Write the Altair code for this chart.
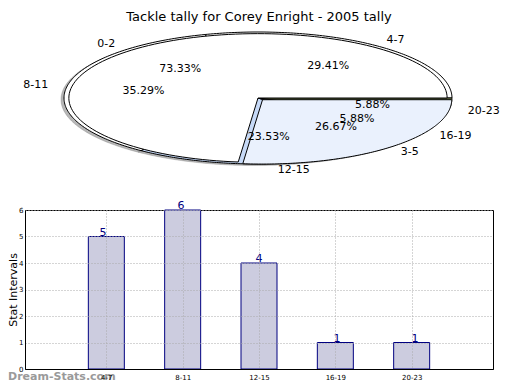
import json
import altair as alt
import pandas as pd

# ---------------- data ----------------
title_text = "Tackle tally for Corey Enright - 2005 tally"
pie_a_labels = ["0-2", "3-5"]
pie_a_values = [11, 4]
pie_b_labels = ["4-7", "8-11", "12-15", "16-19", "20-23"]
pie_b_values = [5, 6, 4, 1, 1]
bar_labels = ["4-7", "8-11", "12-15", "16-19", "20-23"]
bar_values = [5, 6, 4, 1, 1]

# ---------------- tables ----------------
N = 120  # arc resolution (steps along each slice edge)
rows = []
for pie, labels, values in (("A", pie_a_labels, pie_a_values), ("B", pie_b_labels, pie_b_values)):
    for i, (lab, v) in enumerate(zip(labels, values)):
        for t in range(N + 3):
            rows.append({"pie": pie, "label": lab, "value": v, "order": i, "t": t})
pie_df = pd.DataFrame(rows)
bar_df = pd.DataFrame({"label": bar_labels, "value": bar_values,
                       "pos": list(range(1, len(bar_labels) + 1))})

slice_labels = pie_a_labels + pie_b_labels
slice_colors = ["#ffffff", "#eaf1fd", "#ffffff", "#ffffff", "#c6d9f7", "#eaf1fd", "#8d9c5c"]

# pie placement (pixels, relative to bar plot origin)
CX, CY, RX, RY = 233, -112, 194, 66
px_scale = alt.Scale(domain=[-1, 1], range=[CX - RX, CX + RX])
py_scale = alt.Scale(domain=[-1, 1], range=[CY + RY, CY - RY])

base = alt.Chart(pie_df).transform_calculate(
    w="datum.t == 0 ? datum.value : 0"
).transform_joinaggregate(
    total="sum(w)", groupby=["pie"]
).transform_window(
    cum="sum(w)", sort=[alt.SortField("order"), alt.SortField("t")],
    groupby=["pie"], frame=[None, 0]
).transform_calculate(
    a0="2*PI*(datum.cum - datum.value)/datum.total",
    a1="2*PI*datum.cum/datum.total",
).transform_calculate(
    mid="(datum.a0 + datum.a1)/2",
    ang=f"datum.a0 + (datum.a1 - datum.a0)*clamp(datum.t - 1, 0, {N})/{N}",
    r=f"(datum.t == 0 || datum.t == {N + 2}) ? 0 : (datum.pie == 'A' ? 0.975 : 1)",
    ex="datum.label == '3-5' ? 0.035 : 0",
).transform_calculate(
    x="datum.r*cos(datum.ang) + datum.ex*cos(datum.mid)",
    y="datum.r*sin(datum.ang) + datum.ex*sin(datum.mid)",
)

def wedge_layer(pie, **mk):
    return base.transform_filter(f"datum.pie == '{pie}'").mark_line(
        strokeWidth=1, stroke="black", interpolate="linear", **mk
    ).encode(
        x=alt.X("x:Q", scale=px_scale, axis=None),
        y=alt.Y("y:Q", scale=py_scale, axis=None),
        fill=alt.Fill("label:N", scale=alt.Scale(domain=slice_labels, range=slice_colors), legend=None),
        detail="label:N",
        order="t:Q",
    )

shadow = base.transform_filter("datum.pie == 'B'").mark_line(
    fill="#707070", fillOpacity=0.5, stroke="#707070", strokeOpacity=0.3,
    strokeWidth=1, xOffset=-3, yOffset=1.5
).encode(
    x=alt.X("x:Q", scale=px_scale, axis=None),
    y=alt.Y("y:Q", scale=py_scale, axis=None),
    detail="label:N",
    order="t:Q",
)
pie_b = wedge_layer("B")
pie_a = wedge_layer("A")

lab_base = base.transform_filter("datum.t == 0").transform_calculate(
    lx="1.1*cos(datum.mid)", ly="1.1*sin(datum.mid)",
    qx="0.6*cos(datum.mid)", qy="0.6*sin(datum.mid)",
    pct="format(100*datum.value/datum.total, '.2f') + '%'",
)
txt = dict(font="DejaVu Sans", fontSize=11, color="black", baseline="middle")
lab_right = lab_base.transform_filter("datum.lx >= 0").mark_text(align="left", **txt).encode(
    x=alt.X("lx:Q", scale=px_scale, axis=None),
    y=alt.Y("ly:Q", scale=py_scale, axis=None),
    text="label:N",
)
lab_left = lab_base.transform_filter("datum.lx < 0").mark_text(align="right", **txt).encode(
    x=alt.X("lx:Q", scale=px_scale, axis=None),
    y=alt.Y("ly:Q", scale=py_scale, axis=None),
    text="label:N",
)
pct = lab_base.mark_text(align="center", **txt).encode(
    x=alt.X("qx:Q", scale=px_scale, axis=None),
    y=alt.Y("qy:Q", scale=py_scale, axis=None),
    text="pct:N",
)

# ---------------- bar chart ----------------
label_expr = json.dumps(bar_labels) + "[datum.value - 1]"
bx_scale = alt.Scale(domain=[0, 6], nice=False, zero=False)
by_scale = alt.Scale(domain=[0, 6], nice=False)

bars = alt.Chart(bar_df).mark_bar(
    size=36, fill="#ccccdf", stroke="#000080", strokeWidth=1
).encode(
    x=alt.X("pos:Q", scale=bx_scale, title="Frequency",
            axis=alt.Axis(values=[1, 2, 3, 4, 5], labelExpr=label_expr,
                          labelFont="DejaVu Sans", labelFontSize=7, labelColor="black",
                          labelPadding=4, tickSize=0,
                          titleFont="DejaVu Sans", titleFontSize=11, titleFontWeight="normal",
                          titleColor="black", titlePadding=2,
                          domainColor="black", grid=True, gridColor="#aaaaaa",
                          gridDash=[1, 2], zindex=1)),
    y=alt.Y("value:Q", scale=by_scale, title="Stat Intervals",
            axis=alt.Axis(values=[0, 1, 2, 3, 4, 5, 6], format="d",
                          labelFont="DejaVu Sans", labelFontSize=7, labelColor="black",
                          labelPadding=2, tickSize=0,
                          titleFont="DejaVu Sans", titleFontSize=11, titleFontWeight="normal",
                          titleColor="black", titlePadding=0,
                          domainColor="black", grid=True, gridColor="#aaaaaa",
                          gridDash=[1, 2], zindex=1)),
)
bar_text = alt.Chart(bar_df).mark_text(
    font="DejaVu Sans", fontSize=11, color="#000080", baseline="alphabetic", dy=-1
).encode(
    x=alt.X("pos:Q", scale=bx_scale, axis=None),
    y=alt.Y("value:Q", scale=by_scale, axis=None),
    text="value:Q",
)
watermark = alt.Chart(pd.DataFrame({"t": ["Dream-Stats.com"]})).mark_text(
    font="DejaVu Sans", fontSize=11, fontWeight="bold", color="#9a9a9a",
    align="left", baseline="middle"
).encode(x=alt.value(-17), y=alt.value(167), text="t:N")

chart = alt.layer(
    shadow, pie_b, pie_a, lab_left, lab_right, pct, bars, bar_text, watermark
).resolve_scale(
    x="independent", y="independent", fill="independent"
).properties(
    width=468, height=159,
    autosize=alt.AutoSizeParams(type="none"),
    padding={"left": 17, "top": 202, "right": 19, "bottom": 13},
    title=alt.Title(title_text, font="DejaVu Sans", fontSize=13, fontWeight="normal",
                    color="black", anchor="middle", offset=6),
).configure_view(stroke="black", strokeWidth=1)

chart.save("out.html", embed_options={"renderer": "svg", "actions": False})
